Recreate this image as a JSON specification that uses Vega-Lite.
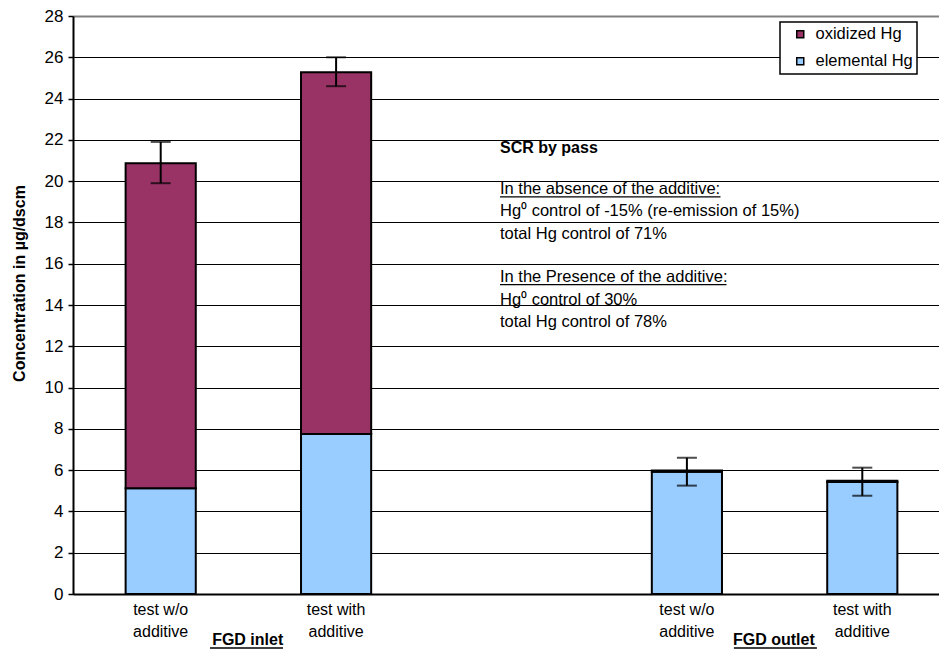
{
  "$schema": "https://vega.github.io/schema/vega-lite/v6.json",
  "width": 866,
  "height": 578,
  "autosize": "none",
  "padding": {"left": 73, "top": 16, "right": 0, "bottom": 55},
  "background": "white",
  "config": {
    "view": {"stroke": null},
    "font": "Liberation Sans",
    "legend": {"strokeWidth": 1.5}
  },
  "datasets": {
    "bars": [
      {"slot": "inlet|test w/o|additive", "component": "elemental Hg", "value": 5.12},
      {"slot": "inlet|test w/o|additive", "component": "oxidized Hg", "value": 15.75},
      {"slot": "inlet|test with|additive", "component": "elemental Hg", "value": 7.75},
      {"slot": "inlet|test with|additive", "component": "oxidized Hg", "value": 17.52},
      {"slot": "outlet|test w/o|additive", "component": "elemental Hg", "value": 5.92},
      {"slot": "outlet|test w/o|additive", "component": "oxidized Hg", "value": 0.06},
      {"slot": "outlet|test with|additive", "component": "elemental Hg", "value": 5.43},
      {"slot": "outlet|test with|additive", "component": "oxidized Hg", "value": 0.06}
    ],
    "errs": [
      {"slot": "inlet|test w/o|additive", "low": 19.9, "high": 21.9},
      {"slot": "inlet|test with|additive", "low": 24.6, "high": 26.0},
      {"slot": "outlet|test w/o|additive", "low": 5.25, "high": 6.6},
      {"slot": "outlet|test with|additive", "low": 4.76, "high": 6.12}
    ],
    "notes": [
      {"text": "In the absence of the additive:", "v": 19.38},
      {"text": "Hg⁰ control of -15% (re-emission of 15%)", "v": 18.29},
      {"text": "total Hg control of 71%", "v": 17.2},
      {"text": "In the Presence of the additive:", "v": 15.11},
      {"text": "Hg⁰ control of 30%", "v": 14.02},
      {"text": "total Hg control of 78%", "v": 12.93}
    ]
  },
  "layer": [
    {
      "data": {"name": "bars"},
      "mark": {"type": "bar", "stroke": "black", "strokeWidth": 2},
      "encoding": {
        "x": {
          "field": "slot", "type": "nominal", "title": null,
          "scale": {
            "domain": ["inlet|test w/o|additive", "inlet|test with|additive", "gap", "outlet|test w/o|additive", "outlet|test with|additive"],
            "range": [0, 877],
            "paddingInner": 0.6,
            "paddingOuter": 0.3
          },
          "axis": {
            "labelExpr": "datum.value == 'gap' ? '' : slice(split(datum.value, '|'), 1)",
            "labelAngle": 0,
            "labelFontSize": 16,
            "labelColor": "black",
            "labelLineHeight": 22,
            "labelPadding": 7,
            "ticks": false,
            "domainColor": "black",
            "domainWidth": 2,
            "grid": false
          }
        },
        "y": {
          "field": "value", "type": "quantitative", "stack": "zero",
          "title": "Concentration in µg/dscm",
          "scale": {"domain": [0, 28], "nice": false},
          "axis": {
            "values": [0, 2, 4, 6, 8, 10, 12, 14, 16, 18, 20, 22, 24, 26, 28],
            "labelFontSize": 17,
            "labelColor": "black",
            "labelPadding": 5,
            "tickSize": 5,
            "tickColor": "black",
            "tickWidth": 1.5,
            "domainColor": "black",
            "domainWidth": 2,
            "grid": true,
            "gridColor": {"condition": {"test": "datum.value == 28", "value": "#808080"}, "value": "black"},
            "gridWidth": {"condition": {"test": "datum.value == 28", "value": 2}, "value": 1},
            "gridOpacity": 1,
            "titleFontSize": 16,
            "titleFontWeight": "bold",
            "titleColor": "black",
            "titlePadding": 17,
            "titleY": 267
          }
        },
        "color": {
          "field": "component", "type": "nominal",
          "scale": {"domain": ["oxidized Hg", "elemental Hg"], "range": ["#993366", "#99CCFF"]},
          "legend": {
            "title": null,
            "orient": "none",
            "legendX": 707,
            "legendY": 6,
            "direction": "vertical",
            "fillColor": "white",
            "strokeColor": "black",
            "padding": 4,
            "symbolType": "square",
            "symbolSize": 49,
            "symbolStrokeColor": "black",
            "symbolStrokeWidth": 1.5,
            "symbolOffset": 8,
            "labelFontSize": 16.5,
            "labelColor": "black",
            "labelOffset": 7,
            "rowPadding": 10
          }
        },
        "order": {"field": "component", "sort": "ascending"}
      }
    },
    {
      "data": {"name": "errs"},
      "mark": {"type": "rule", "color": "black", "strokeWidth": 2},
      "encoding": {
        "x": {"field": "slot", "type": "nominal"},
        "y": {"field": "low", "type": "quantitative"},
        "y2": {"field": "high"}
      }
    },
    {
      "data": {"name": "errs"},
      "mark": {"type": "tick", "color": "black", "thickness": 2, "size": 20, "orient": "horizontal"},
      "encoding": {
        "x": {"field": "slot", "type": "nominal"},
        "y": {"field": "low", "type": "quantitative"}
      }
    },
    {
      "data": {"name": "errs"},
      "mark": {"type": "tick", "color": "black", "thickness": 2, "size": 20, "orient": "horizontal"},
      "encoding": {
        "x": {"field": "slot", "type": "nominal"},
        "y": {"field": "high", "type": "quantitative"}
      }
    },
    {
      "data": {"values": [{"text": "SCR by pass", "v": 21.36}]},
      "mark": {"type": "text", "align": "left", "baseline": "alphabetic", "dx": -11.5, "fontSize": 16, "fontWeight": "bold", "color": "black"},
      "encoding": {
        "x": {"datum": "gap"},
        "y": {"field": "v", "type": "quantitative"},
        "text": {"field": "text"}
      }
    },
    {
      "data": {"name": "notes"},
      "mark": {"type": "text", "align": "left", "baseline": "alphabetic", "dx": -11.5, "fontSize": 16.5, "color": "black"},
      "encoding": {
        "x": {"datum": "gap"},
        "y": {"field": "v", "type": "quantitative"},
        "text": {"field": "text"}
      }
    },
    {
      "data": {"values": [{"v": 19.24}]},
      "mark": {"type": "rule", "color": "black", "strokeWidth": 1.2, "xOffset": -11.5, "x2Offset": 209},
      "encoding": {
        "x": {"datum": "gap"},
        "x2": {"datum": "gap"},
        "y": {"field": "v", "type": "quantitative"}
      }
    },
    {
      "data": {"values": [{"v": 14.99}]},
      "mark": {"type": "rule", "color": "black", "strokeWidth": 1.2, "xOffset": -11.5, "x2Offset": 215},
      "encoding": {
        "x": {"datum": "gap"},
        "x2": {"datum": "gap"},
        "y": {"field": "v", "type": "quantitative"}
      }
    },
    {
      "data": {"values": [{"group": "FGD inlet", "slot": "inlet|test w/o|additive", "v": -2.47}, {"group": "FGD outlet", "slot": "outlet|test w/o|additive", "v": -2.47}]},
      "mark": {"type": "text", "align": "center", "baseline": "alphabetic", "dx": 87, "fontSize": 16, "fontWeight": "bold", "color": "black"},
      "encoding": {
        "x": {"field": "slot", "type": "nominal"},
        "y": {"field": "v", "type": "quantitative"},
        "text": {"field": "group"}
      }
    },
    {
      "data": {"values": [{"v": -2.62}]},
      "mark": {"type": "rule", "color": "black", "strokeWidth": 1.5, "xOffset": 49.3, "x2Offset": -53.1},
      "encoding": {
        "x": {"datum": "inlet|test w/o|additive"},
        "x2": {"datum": "inlet|test with|additive"},
        "y": {"field": "v", "type": "quantitative"}
      }
    },
    {
      "data": {"values": [{"v": -2.62}]},
      "mark": {"type": "rule", "color": "black", "strokeWidth": 1.5, "xOffset": 47, "x2Offset": -45.4},
      "encoding": {
        "x": {"datum": "outlet|test w/o|additive"},
        "x2": {"datum": "outlet|test with|additive"},
        "y": {"field": "v", "type": "quantitative"}
      }
    }
  ]
}
